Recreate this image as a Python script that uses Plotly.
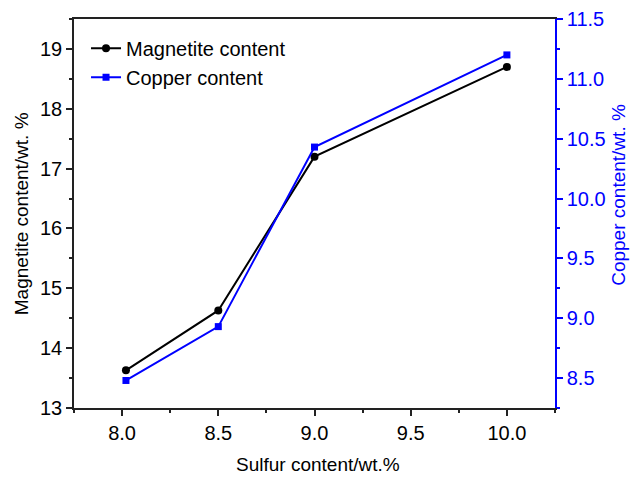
import plotly.graph_objects as go

# Sulfur content (wt.%) of each sample
sulfur = [8.02, 8.5, 9.0, 10.0]
# Magnetite content (wt.%), left axis
magnetite = [13.63, 14.63, 17.2, 18.7]
# Copper content (wt.%), right axis
copper = [8.48, 8.93, 10.43, 11.2]

FONT = "Liberation Sans, Arial, sans-serif"
BLUE = "#0000ff"
DARK = "#222222"
TICK = 20
TITLE = 19

fig = go.Figure()
fig.add_trace(go.Scatter(
    x=sulfur, y=magnetite, name="Magnetite content", mode="lines+markers",
    line=dict(color="black", width=2),
    marker=dict(symbol="circle", size=8, color="black"),
    yaxis="y",
))
fig.add_trace(go.Scatter(
    x=sulfur, y=copper, name="Copper content", mode="lines+markers",
    line=dict(color=BLUE, width=2),
    marker=dict(symbol="square", size=7, color=BLUE),
    yaxis="y2",
))

common = dict(showgrid=False, zeroline=False, automargin=False,
              ticks="outside", ticklen=6, tickwidth=1.5)

fig.update_layout(
    width=631, height=477,
    margin=dict(l=74, r=76, t=19, b=69),
    paper_bgcolor="white", plot_bgcolor="white",
    font=dict(family=FONT, size=TICK, color="black"),
    showlegend=True,
    legend=dict(x=0.025, y=0.975, xanchor="left", yanchor="top",
                bgcolor="rgba(0,0,0,0)", font=dict(size=20, family=FONT),
                tracegroupgap=0, itemwidth=30),
    xaxis=dict(
        range=[7.75, 10.25], tickvals=[8.0, 8.5, 9.0, 9.5, 10.0],
        ticktext=["8.0", "8.5", "9.0", "9.5", "10.0"],
        showline=True, linecolor=DARK, linewidth=1.5, mirror=True,
        tickcolor=DARK,
        minor=dict(dtick=0.25, tick0=7.75, ticks="outside", ticklen=3, tickwidth=1.5, tickcolor=DARK),
        tickfont=dict(size=TICK, family=FONT),
        **common,
    ),
    yaxis=dict(
        range=[13, 19.5], tickvals=[13, 14, 15, 16, 17, 18, 19],
        showline=True, linecolor=DARK, linewidth=1.5,
        tickcolor=DARK,
        minor=dict(dtick=0.5, tick0=13, ticks="outside", ticklen=3.5, tickwidth=1.5, tickcolor=DARK),
        tickfont=dict(size=TICK, family=FONT),
        **common,
    ),
    yaxis2=dict(
        range=[8.25, 11.5], overlaying="y", side="right",
        tickvals=[8.5, 9.0, 9.5, 10.0, 10.5, 11.0, 11.5],
        ticktext=["8.5", "9.0", "9.5", "10.0", "10.5", "11.0", "11.5"],
        showline=True, linecolor=BLUE, linewidth=1.5,
        tickcolor=BLUE,
        minor=dict(dtick=0.25, tick0=8.25, ticks="outside", ticklen=3.5, tickwidth=1.5, tickcolor=BLUE),
        tickfont=dict(size=TICK, family=FONT, color=BLUE),
        **common,
    ),
)

# Axis titles
fig.add_annotation(text="Sulfur content/wt.%", xref="paper", yref="paper",
                   x=0.508, y=-0.1465, xanchor="center", yanchor="middle",
                   showarrow=False, font=dict(size=TITLE, family=FONT, color="black"))
fig.add_annotation(text="Magnetite content/wt. %", xref="paper", yref="paper",
                   x=-0.1087, y=0.5, xanchor="center", yanchor="middle", textangle=-90,
                   showarrow=False, font=dict(size=TITLE, family=FONT, color="black"))
fig.add_annotation(text="Copper content/wt. %", xref="paper", yref="paper",
                   x=1.133, y=0.548, xanchor="center", yanchor="middle", textangle=-90,
                   showarrow=False, font=dict(size=TITLE, family=FONT, color=BLUE))

fig.write_html("out.html")
